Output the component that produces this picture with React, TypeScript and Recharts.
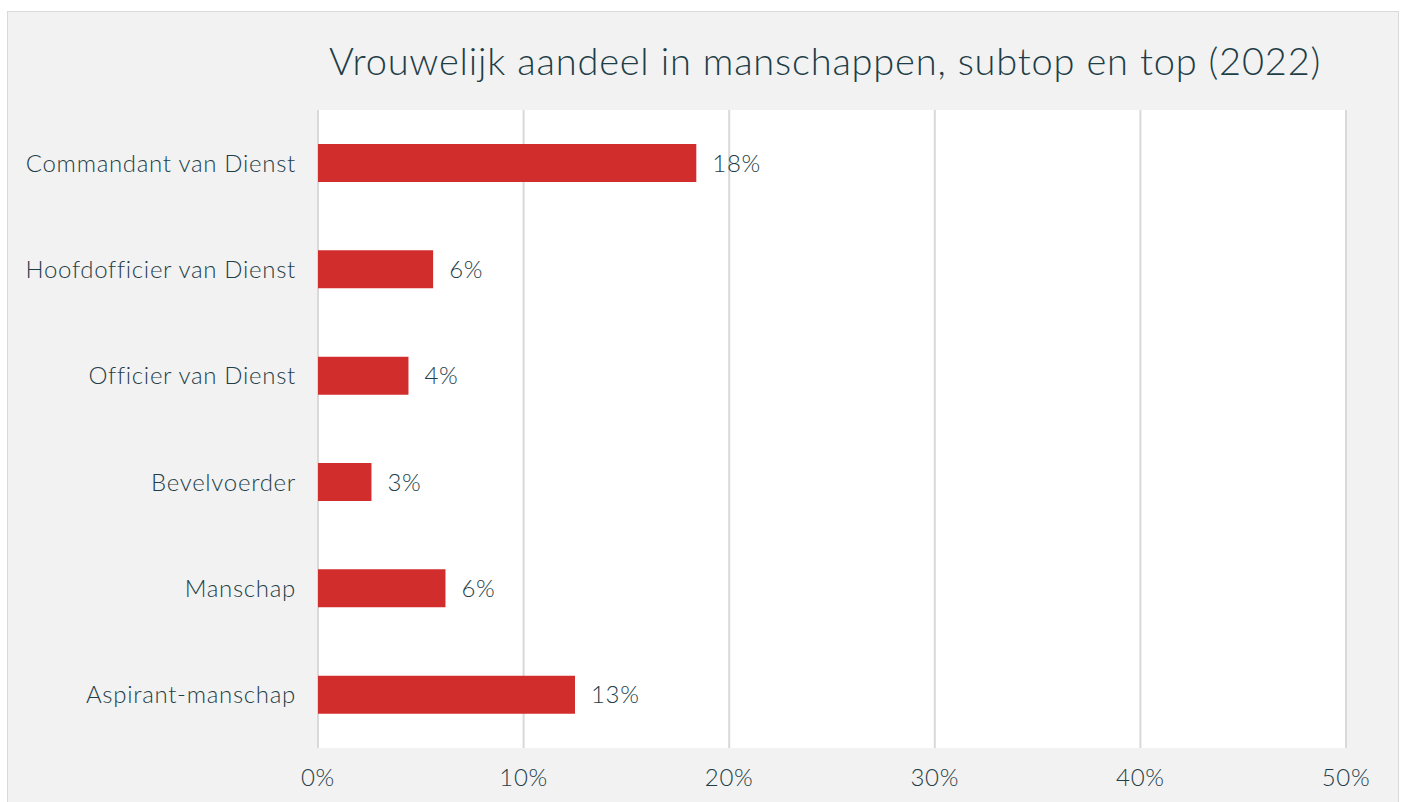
import React from "react";
import { Bar, BarChart, CartesianGrid, LabelList, XAxis, YAxis } from "recharts";

const categories = [
  "Commandant van Dienst",
  "Hoofdofficier van Dienst",
  "Officier van Dienst",
  "Bevelvoerder",
  "Manschap",
  "Aspirant-manschap",
];
const shares = [18.4, 5.6, 4.4, 2.6, 6.2, 12.5];
const xTicks = [0, 10, 20, 30, 40, 50];

const data = categories.map((name, i) => ({ name, share: shares[i] }));

const textColor = "#1e3e48";
const font = "Lato, 'Open Sans', sans-serif";
const tickStyle = {
  fill: textColor,
  fontSize: 24,
  fontFamily: font,
  fontWeight: 300,
  letterSpacing: 0.7,
};

export default function App() {
  return (
    <div
      style={{
        position: "fixed",
        left: 7,
        top: 11,
        width: 1390,
        height: 792,
        background: "#f2f2f2",
        border: "1px solid #d9d9d9",
        borderBottom: "none",
        fontFamily: font,
        overflow: "hidden",
      }}
    >
      <div
        style={{
          position: "absolute",
          left: 303,
          width: 1028,
          top: 25,
          textAlign: "center",
          fontSize: 38,
          fontWeight: 300,
          letterSpacing: 0.8,
          color: textColor,
        }}
      >
        Vrouwelijk aandeel in manschappen, subtop en top (2022)
      </div>
      <BarChart
        width={1390}
        height={792}
        data={data}
        layout="vertical"
        margin={{ top: 98, right: 52, left: 0, bottom: 0 }}
      >
        <CartesianGrid
          horizontal={false}
          fill="#ffffff"
          stroke="#d9d9d9"
          strokeWidth={2}
        />
        <XAxis
          type="number"
          domain={[0, 50]}
          ticks={xTicks}
          tickFormatter={(v) => `${v}%`}
          axisLine={false}
          tickLine={false}
          height={56}
          tickMargin={15}
          tick={tickStyle}
        />
        <YAxis
          type="category"
          dataKey="name"
          width={310}
          axisLine={false}
          tickLine={false}
          tickMargin={16}
          tick={tickStyle}
        />
        <Bar dataKey="share" fill="#d12d2c" barSize={38} isAnimationActive={false}>
          <LabelList
            dataKey="share"
            position="right"
            offset={16}
            formatter={(v: number) => `${Math.round(v)}%`}
            style={tickStyle}
          />
        </Bar>
      </BarChart>
    </div>
  );
}
